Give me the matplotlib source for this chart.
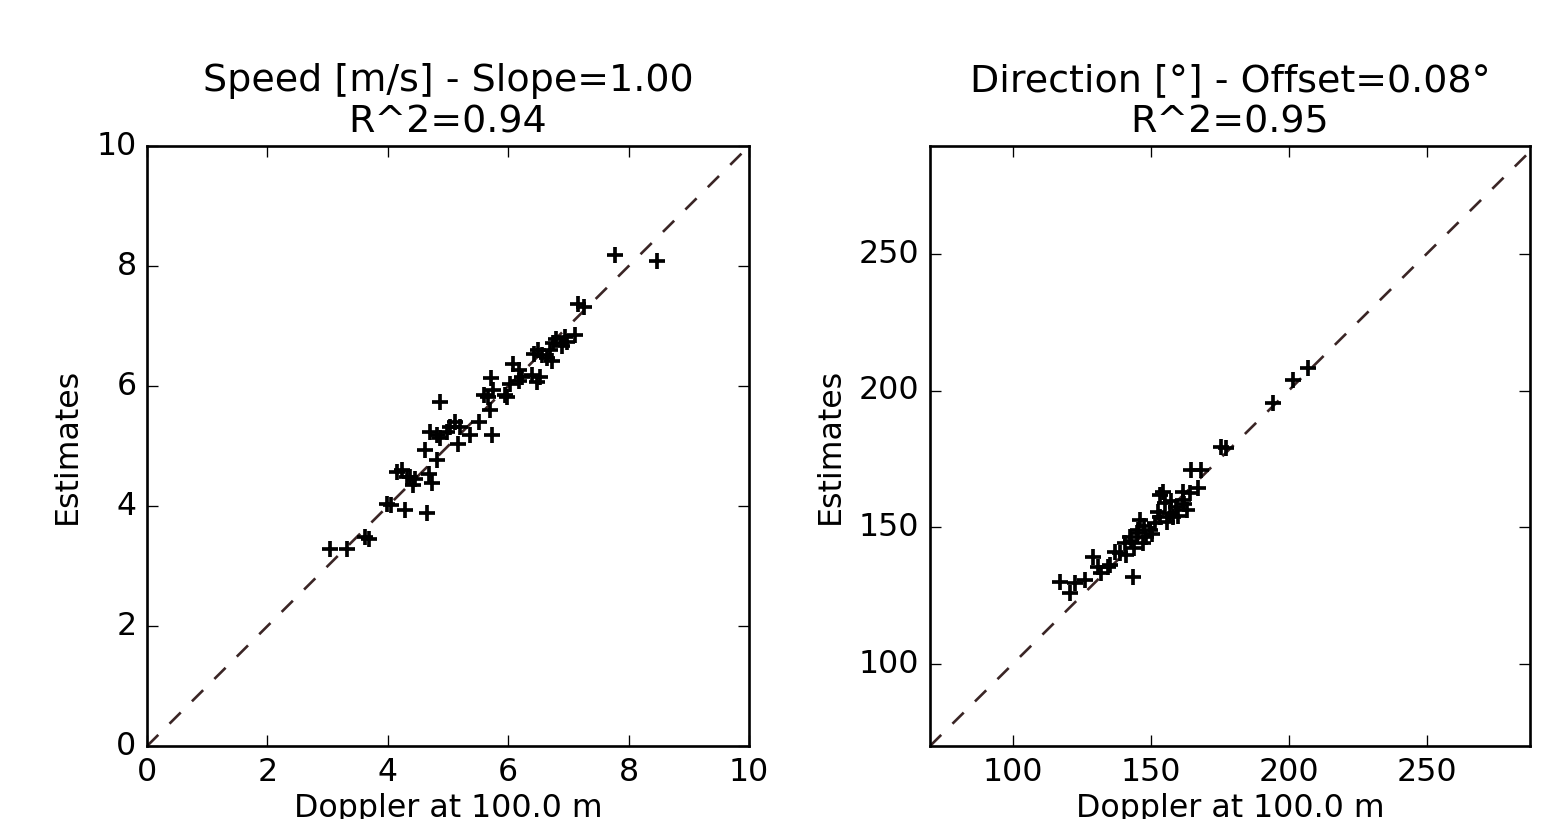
import numpy as np
import matplotlib
matplotlib.use('Agg')
from matplotlib import pyplot as plt

# speed: doppler vs estimate [m/s]
speed_doppler = [3.04, 3.32, 3.62, 3.68, 3.98, 4.05, 4.29, 4.65, 4.15, 4.23,
                 4.31, 4.37, 4.42, 4.45, 4.68, 4.73, 4.62, 4.81, 4.70, 4.81,
                 4.87, 4.98, 5.03, 5.12, 5.20, 5.17, 5.37, 5.51, 5.73, 5.70,
                 4.87, 5.59, 5.67, 5.71, 5.75, 5.95, 5.98, 6.03, 6.08, 6.17,
                 6.22, 6.17, 6.39, 6.47, 6.53, 6.50, 6.42, 6.56, 6.64, 6.72,
                 6.69, 6.75, 6.80, 6.89, 6.94, 6.97, 7.11, 7.15, 7.26, 7.77,
                 8.47]
speed_est = [3.29, 3.29, 3.48, 3.45, 4.04, 4.02, 3.93, 3.88, 4.57, 4.60,
             4.49, 4.49, 4.35, 4.45, 4.54, 4.38, 4.93, 4.77, 5.24, 5.18,
             5.13, 5.24, 5.32, 5.40, 5.32, 5.04, 5.18, 5.40, 5.18, 5.60,
             5.74, 5.85, 5.82, 6.13, 5.93, 5.85, 5.82, 6.04, 6.37, 6.27,
             6.15, 6.08, 6.18, 6.07, 6.15, 6.60, 6.54, 6.52, 6.46, 6.41,
             6.60, 6.71, 6.79, 6.66, 6.82, 6.74, 6.85, 7.37, 7.31, 8.18,
             8.09]

# direction: doppler vs estimate [deg]
dir_doppler = [117.0, 122.5, 126.1, 120.7, 143.6, 129.1, 130.9, 132.1, 135.1, 137.0,
               141.2, 140.6, 142.4, 146.0, 145.4, 147.2, 149.6, 151.4, 153.3, 155.1,
               156.9, 159.3, 161.7, 163.0, 164.1, 158.1, 153.3, 148.4, 144.0, 150.5,
               152.5, 155.8, 157.5, 160.0, 162.0, 147.5, 139.0, 143.0, 154.5, 161.7,
               167.1, 164.7, 168.4, 175.6, 177.4, 194.3, 201.6, 207.0, 134.5, 145.0]
dir_est = [130.1, 129.5, 130.7, 125.9, 131.9, 139.2, 135.6, 133.2, 136.2, 141.1,
           139.9, 144.1, 146.6, 152.7, 149.0, 144.1, 149.0, 151.5, 161.8, 158.8,
           155.1, 157.5, 160.0, 156.3, 162.4, 153.9, 153.9, 146.6, 142.5, 147.5,
           155.5, 152.0, 159.5, 154.0, 158.5, 150.5, 140.5, 145.0, 163.0, 163.0,
           164.3, 171.0, 171.0, 179.5, 178.9, 195.4, 203.9, 208.2, 135.6, 148.0]

plt.style.use('classic')
fig = plt.figure(figsize=(1558 / 190, 819 / 190), dpi=190, facecolor='w')

ax1 = fig.add_axes([0.0944, 0.0891, 0.3864, 0.7326])
ax1.plot([0, 10], [0, 10], '--', color='#3a2525')
ax1.plot(speed_doppler, speed_est, 'k+', mew=1.4)
ax1.set_xlim(0, 10)
ax1.set_ylim(0, 10)
ax1.set_title('Speed [m/s] - Slope=1.00\nR^2=0.94')
ax1.set_xlabel('Doppler at 100.0 m', labelpad=2)
ax1.set_ylabel('Estimates')

ax2 = fig.add_axes([0.5969, 0.0891, 0.3851, 0.7326])
ax2.plot([70, 290], [70, 290], '--', color='#3a2525')
ax2.plot(dir_doppler, dir_est, 'k+', mew=1.4)
ax2.set_xlim(70, 287.5)
ax2.set_ylim(70, 289.5)
ax2.set_xticks([100, 150, 200, 250])
ax2.set_yticks([100, 150, 200, 250])
ax2.set_title(u'Direction [\u00b0] - Offset=0.08\u00b0\nR^2=0.95')
ax2.set_xlabel('Doppler at 100.0 m', labelpad=2)
ax2.set_ylabel('Estimates')

fig.savefig('out.png', dpi=190, facecolor='w')
